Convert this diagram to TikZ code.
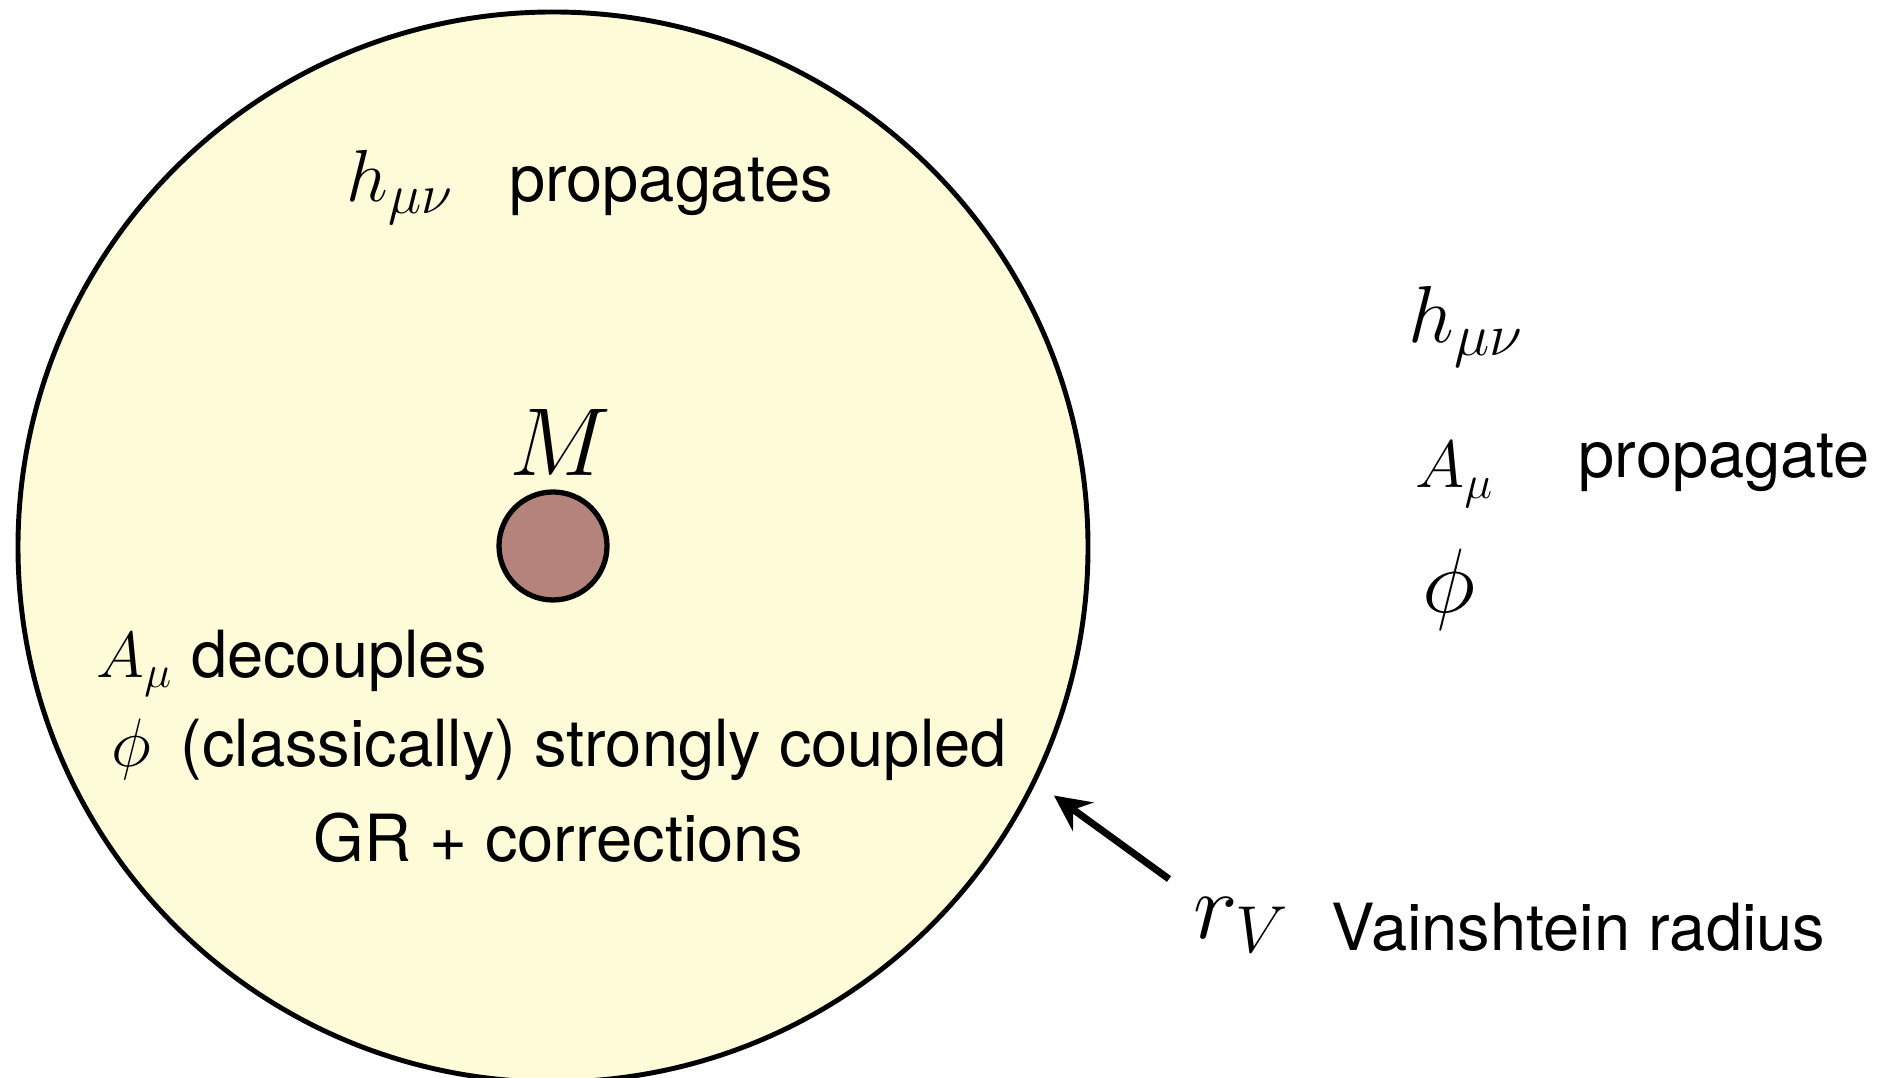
\documentclass[tikz,border=0pt]{standalone}
\usepackage{fix-cm}
\usepackage{fontspec}
\setmainfont{TeX Gyre Heros}
\usetikzlibrary{arrows.meta}
\definecolor{cream}{HTML}{FEFBD9}
\definecolor{mauve}{HTML}{B4837C}
\newcommand{\ix}[2]{\mbox{\fontsize{#1}{#1}\selectfont$#2$}}
\tikzset{
  zone/.style   ={circle, draw=black, line width=1.4pt, fill=cream, minimum size=107mm, inner sep=0pt},
  mass/.style   ={circle, draw=black, line width=1.5pt, fill=mauve, minimum size=10.8mm, inner sep=0pt},
  lbl/.style    ={font=\fontsize{18.5}{22}\selectfont, inner sep=0pt, anchor=base west},
  lblc/.style   ={font=\fontsize{18.5}{22}\selectfont, inner sep=0pt, anchor=base},
  fld/.style    ={inner sep=0pt, anchor=base west},
  pointer/.style={draw=black, line width=2pt, -{Stealth[length=3.6mm,width=3.5mm,inset=1.2mm]}},
}

\begin{document}
\begin{tikzpicture}
    \useasboundingbox (0,0) rectangle (18.89,-10.78);
    \clip (0,0) rectangle (18.89,-10.78);
    \node[zone] (vr) at (5.53,-5.47) {};
    \node[mass] (m) at (5.53,-5.46) {};
    \node[fld,anchor=base,font=\fontsize{27.5}{31}\selectfont] (mlbl) at (5.60,-4.76) {$M$};
    \node[lbl] (hin) at (3.46,-2.02) {\ix{21}{h_{\ix{16}{\mu\nu}}}\hspace{.85em}propagates};
    \node[lbl] (ain) at (0.96,-6.78) {$A_\mu$ decouples};
    \node[lbl] (phin) at (1.11,-7.67) {\ix{19.5}{\phi}\hspace{.45em}(classically) strongly coupled};
    \node[lblc] (gr) at (5.58,-8.61) {GR + corrections};
    \node[fld,font=\fontsize{23}{27}\selectfont] (hout) at (14.08,-3.43) {$h_{\ix{17}{\mu\nu}}$};
    \node[fld,font=\fontsize{19}{23}\selectfont] (aout) at (14.15,-4.88) {$A_\mu$};
    \node[lbl] (prop) at (15.78,-4.78) {propagate};
    \node[fld,anchor=base,font=\fontsize{26}{30}\selectfont] (phout) at (14.49,-6.13) {$\phi$};
    \node[fld,font=\fontsize{27}{31}\selectfont] (rv) at (11.93,-9.38) {$r_V$};
    \node[lbl] (vain) at (13.31,-9.50) {Vainshtein radius};
    \coordinate (tail) at (11.69,-8.79);
    \draw[pointer, shorten >=2.2mm] (tail) -- (vr.-26.4);
\end{tikzpicture}
\end{document}
